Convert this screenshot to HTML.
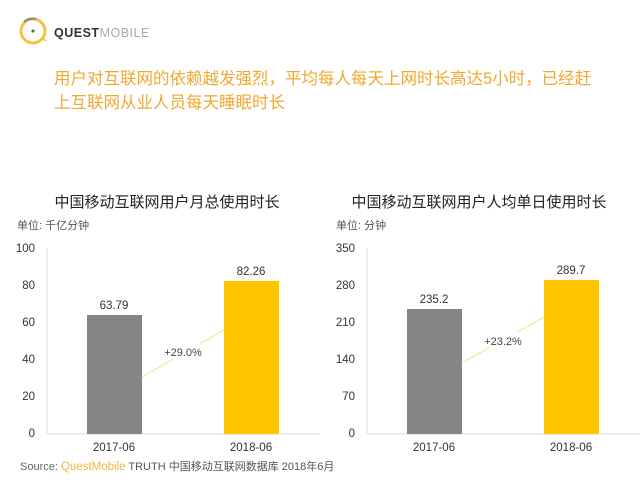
<!DOCTYPE html>
<html><head><meta charset="utf-8"><style>
html,body{margin:0;padding:0;background:#fff;}
svg{display:block;font-family:"Liberation Sans","Noto Sans CJK SC",sans-serif;}
</style></head><body>
<svg width="640" height="480" viewBox="0 0 640 480" xmlns="http://www.w3.org/2000/svg">
<rect width="640" height="480" fill="#fff"/>
<!-- logo -->
<circle cx="33" cy="31" r="12" fill="none" stroke="#f5c342" stroke-width="3"/>
<path d="M24 22 A12 12 0 0 1 36 19" fill="none" stroke="#888" stroke-width="2"/>
<circle cx="33" cy="31" r="1.6" fill="#666"/>
<path d="M40 39 L48 42 L42 36 Z" fill="#f5c342"/>
<text x="54" y="37" font-size="12.5" fill="#333" font-weight="bold" letter-spacing="0.5">QUEST<tspan font-weight="normal" fill="#aaa">MOBILE</tspan></text>
<!-- title -->
<text x="54" y="84" font-size="16.5" fill="#f0a830">用户对互联网的依赖越发强烈，平均每人每天上网时长高达5小时，已经赶</text>
<text x="54" y="108" font-size="16.5" fill="#f0a830">上互联网从业人员每天睡眠时长</text>

<!-- left chart -->
<text x="167" y="207" font-size="15" fill="#222" text-anchor="middle">中国移动互联网用户月总使用时长</text>
<text x="17" y="229" font-size="11" fill="#555">单位: 千亿分钟</text>
<g font-size="11.5" fill="#333" text-anchor="end">
<text x="35" y="252">100</text><text x="35" y="289">80</text><text x="35" y="326">60</text><text x="35" y="363">40</text><text x="35" y="400">20</text><text x="35" y="437">0</text>
</g>
<line x1="47" y1="248" x2="47" y2="434" stroke="#ddd"/>
<line x1="47" y1="434" x2="320" y2="434" stroke="#ddd"/>
<rect x="87" y="315" width="55" height="119" fill="#858585"/>
<rect x="224" y="281" width="55" height="153" fill="#ffc600"/>
<line x1="142" y1="377" x2="224" y2="330" stroke="#f7eba8" stroke-width="1.5"/>
<rect x="160" y="343" width="40" height="16" fill="#fff"/>
<text x="183" y="356" font-size="11" fill="#444" text-anchor="middle">+29.0%</text>
<text x="114" y="309" font-size="11.5" fill="#333" text-anchor="middle">63.79</text>
<text x="251" y="275" font-size="11.5" fill="#333" text-anchor="middle">82.26</text>
<text x="114" y="451" font-size="11.5" fill="#333" text-anchor="middle">2017-06</text>
<text x="251" y="451" font-size="11.5" fill="#333" text-anchor="middle">2018-06</text>

<!-- right chart -->
<text x="479" y="207" font-size="15" fill="#222" text-anchor="middle">中国移动互联网用户人均单日使用时长</text>
<text x="336" y="229" font-size="11" fill="#555">单位: 分钟</text>
<g font-size="11.5" fill="#333" text-anchor="end">
<text x="355" y="252">350</text><text x="355" y="289">280</text><text x="355" y="326">210</text><text x="355" y="363">140</text><text x="355" y="400">70</text><text x="355" y="437">0</text>
</g>
<line x1="367" y1="248" x2="367" y2="434" stroke="#ddd"/>
<line x1="367" y1="434" x2="640" y2="434" stroke="#ddd"/>
<rect x="407" y="309" width="55" height="125" fill="#858585"/>
<rect x="544" y="280" width="55" height="154" fill="#ffc600"/>
<line x1="462" y1="363" x2="544" y2="317" stroke="#f7eba8" stroke-width="1.5"/>
<rect x="481" y="332" width="40" height="16" fill="#fff"/>
<text x="503" y="345" font-size="11" fill="#444" text-anchor="middle">+23.2%</text>
<text x="434" y="303" font-size="11.5" fill="#333" text-anchor="middle">235.2</text>
<text x="571" y="274" font-size="11.5" fill="#333" text-anchor="middle">289.7</text>
<text x="434" y="451" font-size="11.5" fill="#333" text-anchor="middle">2017-06</text>
<text x="571" y="451" font-size="11.5" fill="#333" text-anchor="middle">2018-06</text>

<!-- source -->
<text x="20" y="470" font-size="11" fill="#666">Source:  <tspan fill="#f5b342" font-size="11.5">QuestMobile</tspan><tspan fill="#555"> TRUTH 中国移动互联网数据库 2018年6月</tspan></text>
</svg>
</body></html>
